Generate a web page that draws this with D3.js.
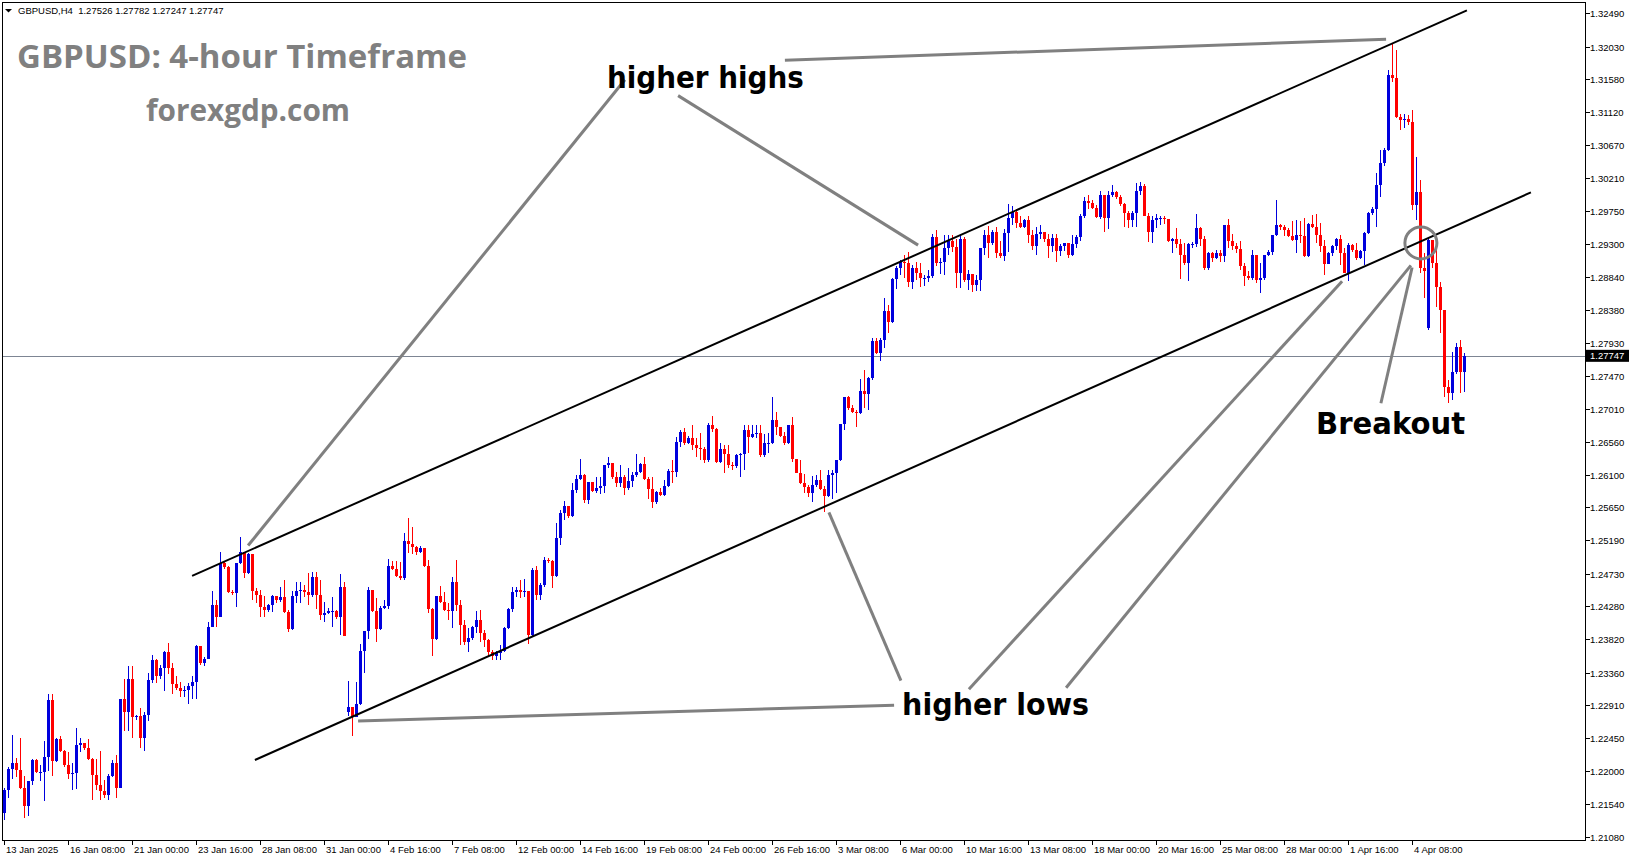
<!DOCTYPE html>
<html><head><meta charset="utf-8">
<script src="https://cdn.jsdelivr.net/npm/d3@7"></script>
<style>html,body{margin:0;padding:0;background:#fff;overflow:hidden}</style>
</head><body>
<svg id="c" width="1631" height="861"></svg>
<script>
// ---------------- DATA (GBPUSD H4) ----------------
const symbolHeader = "GBPUSD,H4  1.27526 1.27782 1.27247 1.27747";
const firstOpen = 1.2141;
const weekendGapOpens = [[86, 1.2281], [356, 1.2813]];
const closes = [
1.2173,1.2203,1.2211,1.2201,1.2176,1.2151,1.2186,1.2215,1.2198,1.2198,
1.2219,1.2298,1.2214,1.2244,1.2228,1.2208,1.2195,1.2197,1.2236,1.2238,
1.2231,1.2216,1.2194,1.2180,1.2172,1.2167,1.2193,1.2211,1.2176,1.2300,
1.2281,1.2327,1.2274,1.2276,1.2246,1.2278,1.2326,1.2353,1.2331,1.2343,
1.2364,1.2343,1.2320,1.2315,1.2311,1.2312,1.2318,1.2323,1.2373,1.2350,
1.2355,1.2399,1.2429,1.2413,1.2488,1.2482,1.2448,1.2446,1.2488,1.2503,
1.2474,1.2500,1.2449,1.2444,1.2427,1.2423,1.2430,1.2442,1.2436,1.2441,
1.2420,1.2396,1.2442,1.2449,1.2450,1.2448,1.2443,1.2468,1.2444,1.2416,
1.2419,1.2421,1.2421,1.2413,1.2455,1.2387,1.2288,1.2274,1.2292,1.2366,
1.2394,1.2450,1.2421,1.2396,1.2426,1.2428,1.2484,1.2479,1.2470,1.2467,
1.2518,1.2514,1.2510,1.2503,1.2509,1.2484,1.2424,1.2383,1.2442,1.2434,
1.2423,1.2421,1.2461,1.2430,1.2402,1.2378,1.2384,1.2399,1.2409,1.2391,
1.2381,1.2364,1.2359,1.2363,1.2366,1.2398,1.2424,1.2448,1.2450,1.2448,
1.2449,1.2388,1.2478,1.2443,1.2457,1.2492,1.2491,1.2470,1.2523,1.2557,
1.2567,1.2553,1.2589,1.2604,1.2610,1.2575,1.2600,1.2588,1.2592,1.2594,
1.2623,1.2626,1.2607,1.2599,1.2607,1.2592,1.2601,1.2610,1.2614,1.2625,
1.2604,1.2590,1.2572,1.2586,1.2582,1.2594,1.2615,1.2614,1.2655,1.2669,
1.2654,1.2661,1.2651,1.2647,1.2646,1.2630,1.2679,1.2673,1.2628,1.2646,
1.2639,1.2623,1.2622,1.2637,1.2639,1.2672,1.2662,1.2666,1.2668,1.2637,
1.2654,1.2654,1.2686,1.2676,1.2664,1.2654,1.2679,1.2632,1.2612,1.2599,
1.2593,1.2585,1.2596,1.2603,1.2590,1.2580,1.2610,1.2612,1.2630,1.2680,
1.2718,1.2702,1.2697,1.2696,1.2726,1.2722,1.2744,1.2795,1.2779,1.2796,
1.2837,1.2821,1.2881,1.2896,1.2904,1.2903,1.2877,1.2897,1.2889,1.2882,
1.2883,1.2885,1.2939,1.2903,1.2904,1.2924,1.2934,1.2925,1.2890,1.2936,
1.2880,1.2888,1.2873,1.2880,1.2924,1.2942,1.2931,1.2946,1.2917,1.2913,
1.2945,1.2966,1.2974,1.2959,1.2953,1.2963,1.2942,1.2927,1.2943,1.2946,
1.2936,1.2927,1.2938,1.2920,1.2927,1.2931,1.2914,1.2930,1.2939,1.2969,
1.2989,1.2986,1.2980,1.2967,1.2998,1.2966,1.2997,1.3001,1.2994,1.2985,
1.2973,1.2963,1.2973,1.3003,1.3010,1.2969,1.2946,1.2963,1.2966,1.2966,
1.2964,1.2934,1.2936,1.2930,1.2914,1.2903,1.2930,1.2930,1.2952,1.2936,
1.2896,1.2917,1.2910,1.2917,1.2913,1.2956,1.2934,1.2927,1.2923,1.2899,
1.2885,1.2883,1.2915,1.2880,1.2883,1.2915,1.2918,1.2942,1.2956,1.2953,
1.2949,1.2941,1.2935,1.2942,1.2941,1.2913,1.2957,1.2953,1.2942,1.2927,
1.2902,1.2917,1.2927,1.2936,1.2917,1.2889,1.2928,1.2921,1.2910,1.2920,
1.2945,1.2973,1.2978,1.3011,1.3042,1.3060,1.3163,1.3159,1.3105,1.3101,
1.3103,1.3098,1.2983,1.3001,1.2896,1.2892,1.2935,1.2903,1.2870,1.2838,
1.2731,1.2723,1.2752,1.2787,1.27526,1.27747];
const highs = [
1.2176,1.2205,1.2250,1.2218,1.2245,1.2193,1.2186,1.2216,1.2216,1.2208,
1.2241,1.2306,1.2306,1.2245,1.2248,1.2229,1.2226,1.2211,1.2260,1.2246,
1.2236,1.2244,1.2218,1.2216,1.2228,1.2187,1.2195,1.2215,1.2222,1.2300,
1.2327,1.2345,1.2345,1.2278,1.2287,1.2281,1.2335,1.2360,1.2355,1.2347,
1.2366,1.2377,1.2349,1.2331,1.2323,1.2318,1.2322,1.2331,1.2374,1.2373,
1.2357,1.2406,1.2449,1.2437,1.2503,1.2491,1.2484,1.2450,1.2488,1.2524,
1.2503,1.2502,1.2500,1.2453,1.2450,1.2442,1.2431,1.2444,1.2442,1.2455,
1.2464,1.2423,1.2449,1.2461,1.2461,1.2457,1.2474,1.2475,1.2475,1.2464,
1.2434,1.2426,1.2441,1.2423,1.2473,1.2461,1.2324,1.2288,1.2323,1.2376,
1.2394,1.2455,1.2449,1.2440,1.2428,1.2437,1.2494,1.2491,1.2491,1.2489,
1.2529,1.2550,1.2537,1.2511,1.2511,1.2509,1.2492,1.2426,1.2442,1.2456,
1.2447,1.2433,1.2468,1.2492,1.2437,1.2409,1.2398,1.2400,1.2421,1.2423,
1.2395,1.2383,1.2367,1.2366,1.2374,1.2399,1.2426,1.2455,1.2455,1.2464,
1.2465,1.2449,1.2481,1.2484,1.2460,1.2496,1.2495,1.2492,1.2543,1.2561,
1.2574,1.2564,1.2599,1.2610,1.2632,1.2611,1.2600,1.2600,1.2607,1.2607,
1.2623,1.2635,1.2626,1.2614,1.2623,1.2610,1.2620,1.2614,1.2639,1.2626,
1.2635,1.2607,1.2607,1.2588,1.2592,1.2603,1.2618,1.2630,1.2662,1.2672,
1.2675,1.2664,1.2679,1.2661,1.2668,1.2648,1.2682,1.2691,1.2675,1.2654,
1.2651,1.2651,1.2628,1.2639,1.2640,1.2679,1.2679,1.2679,1.2679,1.2679,
1.2666,1.2668,1.2717,1.2697,1.2676,1.2669,1.2679,1.2690,1.2632,1.2630,
1.2611,1.2596,1.2608,1.2610,1.2617,1.2594,1.2617,1.2617,1.2630,1.2680,
1.2718,1.2719,1.2706,1.2700,1.2743,1.2755,1.2745,1.2800,1.2799,1.2800,
1.2855,1.2845,1.2882,1.2899,1.2908,1.2914,1.2918,1.2900,1.2904,1.2903,
1.2886,1.2893,1.2944,1.2949,1.2910,1.2942,1.2942,1.2942,1.2936,1.2942,
1.2939,1.2893,1.2888,1.2886,1.2924,1.2949,1.2955,1.2949,1.2953,1.2934,
1.2951,1.2985,1.2982,1.2978,1.2969,1.2964,1.2969,1.2949,1.2953,1.2956,
1.2946,1.2943,1.2943,1.2943,1.2930,1.2931,1.2931,1.2942,1.2942,1.2971,
1.2994,1.2997,1.2990,1.2983,1.3003,1.2997,1.3003,1.3011,1.3003,1.2997,
1.2986,1.2975,1.2975,1.3014,1.3015,1.3012,1.2973,1.2969,1.2971,1.2969,
1.2969,1.2962,1.2938,1.2952,1.2936,1.2931,1.2931,1.2932,1.2971,1.2953,
1.2941,1.2918,1.2918,1.2921,1.2921,1.2956,1.2964,1.2943,1.2931,1.2934,
1.2903,1.2892,1.2921,1.2915,1.2903,1.2915,1.2921,1.2942,1.2990,1.2957,
1.2956,1.2952,1.2962,1.2963,1.2962,1.2966,1.2959,1.2970,1.2971,1.2959,
1.2935,1.2918,1.2928,1.2938,1.2942,1.2924,1.2931,1.2930,1.2931,1.2921,
1.2946,1.2974,1.2981,1.3028,1.3060,1.3062,1.3170,1.3208,1.3198,1.3110,
1.3110,1.3108,1.3115,1.3050,1.3018,1.2917,1.2938,1.2935,1.2921,1.2877,
1.2838,1.2741,1.2780,1.2792,1.2797,1.27782];
const lows = [
1.2132,1.2163,1.2189,1.2191,1.2175,1.2135,1.2138,1.2181,1.2197,1.2186,
1.2158,1.2200,1.2193,1.2212,1.2226,1.2205,1.2189,1.2173,1.2175,1.2226,
1.2229,1.2215,1.2159,1.2173,1.2159,1.2163,1.2159,1.2191,1.2163,1.2176,
1.2255,1.2255,1.2246,1.2271,1.2232,1.2228,1.2269,1.2322,1.2322,1.2327,
1.2311,1.2334,1.2306,1.2312,1.2302,1.2302,1.2292,1.2300,1.2300,1.2346,
1.2345,1.2355,1.2399,1.2399,1.2413,1.2479,1.2446,1.2444,1.2427,1.2487,
1.2467,1.2473,1.2436,1.2433,1.2413,1.2413,1.2420,1.2420,1.2433,1.2434,
1.2419,1.2392,1.2395,1.2433,1.2433,1.2441,1.2430,1.2441,1.2424,1.2409,
1.2406,1.2417,1.2399,1.2410,1.2388,1.2387,1.2276,1.2248,1.2274,1.2291,
1.2335,1.2383,1.2420,1.2378,1.2395,1.2424,1.2424,1.2478,1.2468,1.2464,
1.2464,1.2502,1.2500,1.2499,1.2502,1.2482,1.2419,1.2359,1.2381,1.2433,
1.2421,1.2409,1.2398,1.2421,1.2374,1.2374,1.2364,1.2381,1.2391,1.2378,
1.2371,1.2357,1.2353,1.2353,1.2353,1.2364,1.2396,1.2420,1.2441,1.2440,
1.2441,1.2376,1.2387,1.2436,1.2436,1.2455,1.2488,1.2453,1.2468,1.2513,
1.2547,1.2550,1.2551,1.2585,1.2603,1.2571,1.2569,1.2586,1.2585,1.2583,
1.2585,1.2620,1.2604,1.2593,1.2593,1.2582,1.2589,1.2593,1.2607,1.2613,
1.2603,1.2576,1.2564,1.2569,1.2581,1.2581,1.2593,1.2599,1.2607,1.2648,
1.2651,1.2652,1.2644,1.2634,1.2630,1.2626,1.2628,1.2669,1.2626,1.2626,
1.2613,1.2620,1.2617,1.2620,1.2607,1.2616,1.2640,1.2661,1.2661,1.2634,
1.2634,1.2640,1.2652,1.2665,1.2662,1.2651,1.2652,1.2628,1.2612,1.2597,
1.2585,1.2579,1.2572,1.2593,1.2589,1.2558,1.2579,1.2576,1.2585,1.2629,
1.2672,1.2700,1.2696,1.2676,1.2694,1.2703,1.2700,1.2741,1.2777,1.2768,
1.2786,1.2806,1.2820,1.2867,1.2886,1.2882,1.2870,1.2867,1.2880,1.2870,
1.2871,1.2877,1.2882,1.2899,1.2888,1.2886,1.2914,1.2918,1.2869,1.2869,
1.2877,1.2866,1.2863,1.2864,1.2864,1.2914,1.2910,1.2928,1.2910,1.2910,
1.2906,1.2918,1.2956,1.2952,1.2952,1.2952,1.2931,1.2921,1.2915,1.2936,
1.2932,1.2910,1.2918,1.2904,1.2913,1.2920,1.2910,1.2913,1.2924,1.2934,
1.2966,1.2978,1.2978,1.2966,1.2964,1.2946,1.2950,1.2994,1.2992,1.2982,
1.2953,1.2952,1.2953,1.2953,1.2997,1.2969,1.2932,1.2931,1.2952,1.2956,
1.2957,1.2932,1.2917,1.2924,1.2881,1.2900,1.2878,1.2924,1.2925,1.2927,
1.2894,1.2893,1.2904,1.2909,1.2904,1.2904,1.2924,1.2921,1.2917,1.2893,
1.2871,1.2880,1.2880,1.2876,1.2862,1.2880,1.2913,1.2914,1.2941,1.2949,
1.2941,1.2939,1.2934,1.2917,1.2931,1.2911,1.2911,1.2952,1.2931,1.2918,
1.2886,1.2902,1.2913,1.2921,1.2900,1.2889,1.2878,1.2918,1.2907,1.2909,
1.2900,1.2944,1.2970,1.2953,1.2994,1.3038,1.3058,1.3154,1.3104,1.3087,
1.3090,1.3094,1.2977,1.2963,1.2889,1.2855,1.2810,1.2896,1.2842,1.2806,
1.2717,1.2710,1.2713,1.2749,1.2723,1.27247];
const priceTicks = ["1.32490","1.32030","1.31580","1.31120","1.30670","1.30210","1.29750",
  "1.29300","1.28840","1.28380","1.27930","1.27470","1.27010","1.26560","1.26100","1.25650",
  "1.25190","1.24730","1.24280","1.23820","1.23360","1.22910","1.22450","1.22000","1.21540","1.21080"];
const dateLabels = ["13 Jan 2025","16 Jan 08:00","21 Jan 00:00","23 Jan 16:00","28 Jan 08:00",
  "31 Jan 00:00","4 Feb 16:00","7 Feb 08:00","12 Feb 00:00","14 Feb 16:00","19 Feb 08:00",
  "24 Feb 00:00","26 Feb 16:00","3 Mar 08:00","6 Mar 00:00","10 Mar 16:00","13 Mar 08:00",
  "18 Mar 00:00","20 Mar 16:00","25 Mar 08:00","28 Mar 00:00","1 Apr 16:00","4 Apr 08:00"];
const barsPerDateLabel = 16;
const lastPrice = 1.27747;
// trend channel (bar index, price)
const upperChannel = [[47.1, 1.2470], [365.8, 1.3253]];
const lowerChannel = [[62.8, 1.2215], [381.8, 1.3001]];
// gray pointer lines (bar index, price)
const pointerLines = [
  [[155.3, 1.3157], [61.1, 1.2512]],
  [[168.6, 1.3135], [228.6, 1.2928]],
  [[195.3, 1.3184], [345.6, 1.3213]],
  [[222.6, 1.2291], [88.6, 1.2269]],
  [[224.3, 1.2325], [206.3, 1.2558]],
  [[241.3, 1.2313], [334.6, 1.2878]],
  [[265.6, 1.2315], [351.8, 1.2900]],
  [[344.3, 1.2709], [352.1, 1.2897]]
];
const breakoutCircle = [354.3, 1.2931];
const annotations = [
  {text: "higher highs", bar: 150.8, price: 1.3145, width: 197},
  {text: "higher lows", bar: 224.6, price: 1.2277, width: 187},
  {text: "Breakout", bar: 328.1, price: 1.2667, width: 149}
];

// ---------------- DRAW ----------------
const svg = d3.select("#c");
const W = 1631, H = 861;
const plotL = 2.5, plotR = 1585.5, plotT = 2.5, plotB = 840.5;
const n = closes.length;
const x = d3.scaleLinear().domain([0, n - 1]).range([3.7, 3.7 + 4 * (n - 1)]);
const y = d3.scaleLinear().domain([1.21080, 1.32490]).range([837.3, 13.3]);
const BLUE = "#0000DD", RED = "#FF0000";
const axisFont = "'Liberation Sans', Arial, sans-serif";

svg.append("rect").attr("width", W).attr("height", H).attr("fill", "#fff");

const gapMap = new Map(weekendGapOpens);
const candles = closes.map((c, i) => {
  const o = i === 0 ? firstOpen : (gapMap.has(i) ? gapMap.get(i) : closes[i - 1]);
  return {i, o, c, h: Math.max(highs[i], o, c), l: Math.min(lows[i], o, c)};
});

// title texts
svg.append("text").attr("x", 17).attr("y", 68)
  .attr("font-family", "'Open Sans', sans-serif").attr("font-weight", "bold")
  .attr("font-size", 33).attr("fill", "#808080")
  .attr("textLength", 450).attr("lengthAdjust", "spacingAndGlyphs")
  .text("GBPUSD: 4-hour Timeframe");
svg.append("text").attr("x", 146).attr("y", 121)
  .attr("font-family", "'Open Sans', sans-serif").attr("font-weight", "bold")
  .attr("font-size", 30).attr("fill", "#808080")
  .attr("textLength", 204).attr("lengthAdjust", "spacingAndGlyphs")
  .text("forexgdp.com");

// current price line
svg.append("line").attr("x1", plotL).attr("x2", plotR)
  .attr("y1", Math.round(y(lastPrice)) + 0.5).attr("y2", Math.round(y(lastPrice)) + 0.5)
  .attr("stroke", "#7d8593").attr("stroke-width", 1);

// candles
const g = svg.append("g").attr("shape-rendering", "crispEdges");
g.selectAll("rect.wick").data(candles).enter().append("rect")
  .attr("x", d => Math.round(x(d.i)))
  .attr("y", d => Math.round(y(d.h)))
  .attr("width", 1)
  .attr("height", d => Math.max(1, Math.round(y(d.l)) - Math.round(y(d.h))))
  .attr("fill", d => d.c >= d.o ? BLUE : RED);
g.selectAll("rect.body").data(candles).enter().append("rect")
  .attr("x", d => Math.round(x(d.i)) - 1)
  .attr("y", d => Math.round(y(Math.max(d.o, d.c))))
  .attr("width", 3)
  .attr("height", d => Math.max(1, Math.round(y(Math.min(d.o, d.c))) - Math.round(y(Math.max(d.o, d.c)))))
  .attr("fill", d => d.c >= d.o ? BLUE : RED);

// channel lines
[upperChannel, lowerChannel].forEach(ln => {
  svg.append("line")
    .attr("x1", x(ln[0][0])).attr("y1", y(ln[0][1]))
    .attr("x2", x(ln[1][0])).attr("y2", y(ln[1][1]))
    .attr("stroke", "#000").attr("stroke-width", 2);
});

// pointer lines
pointerLines.forEach(ln => {
  svg.append("line")
    .attr("x1", x(ln[0][0])).attr("y1", y(ln[0][1]))
    .attr("x2", x(ln[1][0])).attr("y2", y(ln[1][1]))
    .attr("stroke", "#808080").attr("stroke-width", 3);
});
svg.append("circle").attr("cx", x(breakoutCircle[0])).attr("cy", y(breakoutCircle[1]))
  .attr("r", 16).attr("fill", "none").attr("stroke", "#808080").attr("stroke-width", 3);

// annotation texts
annotations.forEach(a => {
  svg.append("text").attr("x", x(a.bar)).attr("y", y(a.price))
    .attr("font-family", "'DejaVu Sans', sans-serif").attr("font-weight", "bold")
    .attr("font-size", 30).attr("fill", "#000")
    .attr("textLength", a.width).attr("lengthAdjust", "spacingAndGlyphs")
    .text(a.text);
});

// frame
svg.append("path")
  .attr("d", `M${plotL},${plotB}V${plotT}H${plotR}V${plotB}H${plotL}`)
  .attr("fill", "none").attr("stroke", "#000").attr("stroke-width", 1)
  .attr("shape-rendering", "crispEdges");

// header
svg.append("path").attr("d", "M5,9 L12,9 L8.5,12.5 Z").attr("fill", "#000");
svg.append("text").attr("x", 18).attr("y", 14)
  .attr("font-family", axisFont).attr("font-size", 9.5).attr("fill", "#000")
  .attr("xml:space", "preserve").text(symbolHeader);

// price axis
const ya = svg.append("g");
priceTicks.forEach(t => {
  const yy = Math.round(y(+t)) + 0.5;
  ya.append("line").attr("x1", plotR).attr("x2", plotR + 4).attr("y1", yy).attr("y2", yy)
    .attr("stroke", "#000").attr("shape-rendering", "crispEdges");
  ya.append("text").attr("x", 1590).attr("y", yy + 3.5)
    .attr("font-family", axisFont).attr("font-size", 9.5).attr("fill", "#000").text(t);
});
// last price box
const ly = y(lastPrice);
svg.append("rect").attr("x", plotR + 0.5).attr("y", ly - 6).attr("width", 43).attr("height", 12)
  .attr("fill", "#000");
svg.append("text").attr("x", 1590).attr("y", ly + 3.5)
  .attr("font-family", axisFont).attr("font-size", 9.5).attr("fill", "#fff")
  .text(lastPrice.toFixed(5));

// time axis
dateLabels.forEach((lab, k) => {
  const xx = Math.round(x(k * barsPerDateLabel)) + 0.5;
  svg.append("line").attr("x1", xx).attr("x2", xx).attr("y1", plotB).attr("y2", plotB + 4)
    .attr("stroke", "#000").attr("shape-rendering", "crispEdges");
  svg.append("text").attr("x", xx + 1.5).attr("y", 853)
    .attr("font-family", axisFont).attr("font-size", 9.5).attr("fill", "#000").text(lab);
});
</script>
</body></html>
